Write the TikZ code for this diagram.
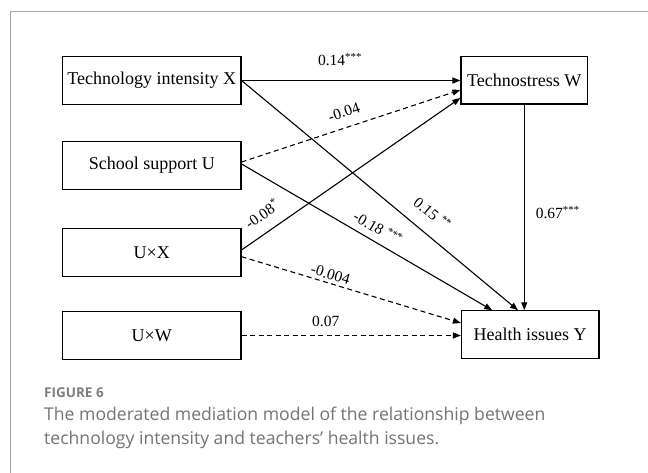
\documentclass[tikz,border=0pt]{standalone}
\usepackage{fontspec}
\setmainfont{Liberation Serif}
\newfontfamily\capfont{Open Sans}
\usepackage{tikz}
\usetikzlibrary{arrows.meta,positioning}

\definecolor{cardgray}{HTML}{A6A6A6}
\definecolor{capgray}{HTML}{747474}
\definecolor{figgray}{HTML}{7E7E7E}

\begin{document}
\begin{tikzpicture}[x=1pt,y=-1pt,
  var/.style={draw,line width=1.2pt,minimum height=47.5pt,inner sep=0pt,
    font=\fontsize{18}{20}\selectfont},
  lvar/.style={var,minimum width=178.3pt},
  eff/.style={line width=1.1pt,-{Triangle[length=8pt,width=6pt]}},
  ns/.style={eff,dash pattern=on 5pt off 3.5pt},
  coef/.style={font=\fontsize{15.5}{17}\selectfont,inner sep=2pt}]
\clip (0,0) rectangle (648,473);
\fill[white] (0,0) rectangle (648,473);
\draw[cardgray,line width=0.9pt] (10,480) -- (10,11.7) -- (660,11.7);

% variables
\node[lvar] (X) at (151.8,80.5) {Technology intensity X};
\node[lvar] (U) at (151.8,165.5) {School support U};
\node[lvar] (UX) at (151.8,252.5) {U×X};
\node[lvar] (UW) at (151.8,335.5) {U×W};
\node[var,minimum width=126.7pt] (W) at (524.3,80.3) {Technostress W};
\node[var,minimum width=137.5pt] (Y) at (530.2,334.6) {Health issues Y};

% paths to W
\draw[eff] (X.east) -- (X.east -| W.west)
  node[coef,pos=0.45,above=12pt] {0.14\textsuperscript{***}};
\draw[ns] ([yshift=3.5pt]U.east) -- ([yshift=-9.7pt]W.west)
  node[coef,pos=0.49,sloped,above=7.5pt] {-0.04};
\draw[eff] ([yshift=2.5pt]UX.east) -- ([yshift=-17.7pt]W.west)
  node[coef,pos=0.14,sloped,above=9.4pt] {-0.08\textsuperscript{*}};

% paths to Y
\draw[eff] (X.east) -- ([xshift=-12.2pt]Y.north)
  node[coef,pos=0.645,sloped,above=11pt] {0.15 \textsuperscript{**}};
\draw[eff] ([yshift=1.5pt]U.east) -- ([xshift=-38pt]Y.north)
  node[coef,pos=0.517,sloped,above=5pt] {-0.18 \textsuperscript{***}};
\draw[eff] (W.south) -- (W.south |- Y.north)
  node[coef,pos=0.523,right=9pt] {0.67\textsuperscript{***}};
\draw[ns] ([yshift=-4.2pt]UX.east) -- ([yshift=11.6pt]Y.west)
  node[coef,pos=0.394,sloped,above=1pt] {-0.004};
\draw[ns] (UW.east) -- (UW.east -| Y.west)
  node[coef,pos=0.384,above=6pt] {0.07};

% caption
\node[anchor=base west,inner sep=0pt,text=figgray,
  font=\capfont\bfseries\fontsize{13.5}{15}\selectfont] (fig) at (44,397) {FIGURE 6};
\node[anchor=base west,inner sep=0pt,text=capgray,
  font=\capfont\fontsize{17.6}{20}\selectfont] (cap1) at (44,420)
  {The moderated mediation model of the relationship between};
\node[anchor=base west,inner sep=0pt,text=capgray,
  font=\capfont\fontsize{17.6}{20}\selectfont] (cap2) at ([yshift=-24pt]cap1.base west)
  {technology intensity and teachers’ health issues.};
\end{tikzpicture}
\end{document}
